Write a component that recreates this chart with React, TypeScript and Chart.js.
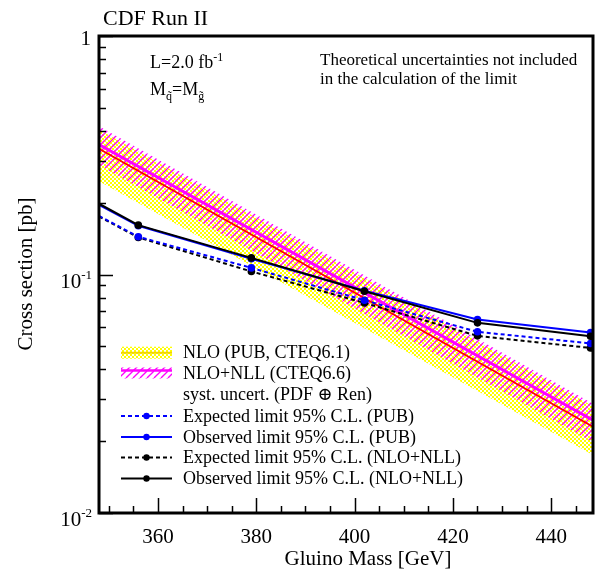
import React, { useEffect, useRef } from 'react';
import { Chart, registerables } from 'chart.js';
Chart.register(...registerables);

// ---- data ----
const limitMass = [348, 356, 379, 402, 425, 448];
const expectedPUB = [0.176, 0.144, 0.1066, 0.078, 0.0575, 0.0514];
const observedPUB = [0.196, 0.16, 0.1165, 0.0855, 0.0648, 0.0571];
const expectedNLL = [0.175, 0.143, 0.103, 0.076, 0.0553, 0.0492];
const observedNLL = [0.198, 0.161, 0.1174, 0.0851, 0.0627, 0.0551];

const bandMass = [348, 448.5];
const nloCentral = [0.337, 0.023];
const nloUpper = [0.405, 0.028];
const nloLower = [0.246, 0.0175];
const nllCentral = [0.351, 0.0245];
const nllUpper = [0.418, 0.0287];
const nllLower = [0.288, 0.0198];

const xMajorTicks = [360, 380, 400, 420, 440];
const xTickLabels = ['360', '380', '400', '420', '440'];
const xMinorTicks = [350, 355, 365, 370, 375, 385, 390, 395, 405, 410, 415, 425, 430, 435, 445];
const yMajorTicks = [1, 0.1, 0.01];
const yTickBases = ['1', '10', '10'];
const yTickExps = ['', '-1', '-2'];
const yMinorTicks = [0.02, 0.03, 0.04, 0.05, 0.06, 0.07, 0.08, 0.09, 0.2, 0.3, 0.4, 0.5, 0.6, 0.7, 0.8, 0.9];

const legendLabels = [
  'NLO (PUB, CTEQ6.1)',
  'NLO+NLL (CTEQ6.6)',
  'syst. uncert. (PDF \u2295 Ren)',
  'Expected limit 95% C.L. (PUB)',
  'Observed limit 95% C.L. (PUB)',
  'Expected limit 95% C.L. (NLO+NLL)',
  'Observed limit 95% C.L. (NLO+NLL)',
];

const FONT = "'Liberation Serif', 'DejaVu Serif', serif";
const BLUE = '#0000ff';
const BLACK = '#000000';

function yellowPattern(): CanvasPattern | string {
  const c = document.createElement('canvas');
  c.width = 4;
  c.height = 4;
  const g = c.getContext('2d');
  if (!g) return '#ffff00';
  g.fillStyle = '#ffff00';
  g.fillRect(0, 0, 2, 2);
  g.fillRect(2, 2, 2, 2);
  return g.createPattern(c, 'repeat') || '#ffff00';
}

function magentaPattern(): CanvasPattern | string {
  const c = document.createElement('canvas');
  const s = 7;
  c.width = s;
  c.height = s;
  const g = c.getContext('2d');
  if (!g) return '#ff00ff';
  g.strokeStyle = '#ff00ff';
  g.lineWidth = 1.3;
  for (const k of [-s, 0, s]) {
    g.beginPath();
    g.moveTo(k, s);
    g.lineTo(k + s, 0);
    g.stroke();
  }
  return g.createPattern(c, 'repeat') || '#ff00ff';
}

function pts(xs: number[], ys: number[]) {
  return xs.map((x, i) => ({ x, y: ys[i] }));
}

function drawParts(
  ctx: CanvasRenderingContext2D,
  parts: { t: string; size: number; dy: number }[],
  x: number,
  y: number,
  align: 'left' | 'right' | 'center'
) {
  let total = 0;
  const widths = parts.map((p) => {
    ctx.font = `${p.size}px ${FONT}`;
    const w = ctx.measureText(p.t).width;
    total += w;
    return w;
  });
  let cx = align === 'left' ? x : align === 'right' ? x - total : x - total / 2;
  ctx.textAlign = 'left';
  ctx.textBaseline = 'alphabetic';
  parts.forEach((p, i) => {
    ctx.font = `${p.size}px ${FONT}`;
    ctx.fillText(p.t, cx, y + p.dy);
    cx += widths[i];
  });
}

const overlayPlugin = {
  id: 'overlay',
  beforeDraw(chart: any) {
    const ctx = chart.ctx as CanvasRenderingContext2D;
    ctx.save();
    ctx.fillStyle = '#ffffff';
    ctx.fillRect(0, 0, chart.width, chart.height);
    ctx.restore();
  },
  afterDraw(chart: any) {
    const ctx = chart.ctx as CanvasRenderingContext2D;
    const xs = chart.scales.x;
    const ys = chart.scales.y;
    const a = chart.chartArea;
    ctx.save();
    ctx.fillStyle = BLACK;
    ctx.strokeStyle = BLACK;

    // ticks
    ctx.lineWidth = 1.5;
    ctx.beginPath();
    xMajorTicks.forEach((v) => {
      const px = Math.round(xs.getPixelForValue(v)) + 0.5;
      ctx.moveTo(px, a.bottom);
      ctx.lineTo(px, a.bottom - 15);
    });
    xMinorTicks.forEach((v) => {
      const px = Math.round(xs.getPixelForValue(v)) + 0.5;
      ctx.moveTo(px, a.bottom);
      ctx.lineTo(px, a.bottom - 7);
    });
    yMajorTicks.forEach((v) => {
      const py = Math.round(ys.getPixelForValue(v)) + 0.5;
      ctx.moveTo(a.left, py);
      ctx.lineTo(a.left + 14, py);
    });
    yMinorTicks.forEach((v) => {
      const py = Math.round(ys.getPixelForValue(v)) + 0.5;
      ctx.moveTo(a.left, py);
      ctx.lineTo(a.left + 7, py);
    });
    ctx.stroke();

    // frame
    ctx.lineWidth = 3;
    ctx.strokeRect(a.left, a.top, a.right - a.left, a.bottom - a.top);

    // x tick labels
    ctx.font = `21px ${FONT}`;
    ctx.textAlign = 'center';
    ctx.textBaseline = 'alphabetic';
    xMajorTicks.forEach((v, i) => {
      ctx.fillText(xTickLabels[i], xs.getPixelForValue(v), a.bottom + 30);
    });

    // y tick labels
    yMajorTicks.forEach((v, i) => {
      const py = ys.getPixelForValue(v);
      if (yTickExps[i] === '') {
        drawParts(ctx, [{ t: yTickBases[i], size: 21, dy: 0 }], 91, py + 9, 'right');
      } else {
        drawParts(
          ctx,
          [
            { t: yTickBases[i], size: 21, dy: 0 },
            { t: yTickExps[i], size: 13, dy: -9 },
          ],
          92,
          py + 13,
          'right'
        );
      }
    });

    // axis titles
    ctx.font = `21px ${FONT}`;
    ctx.textAlign = 'center';
    ctx.fillText('Gluino Mass [GeV]', 368, 565);
    ctx.save();
    ctx.translate(32, 274);
    ctx.rotate(-Math.PI / 2);
    ctx.fillText('Cross section [pb]', 0, 0);
    ctx.restore();

    // title
    ctx.font = `22px ${FONT}`;
    ctx.textAlign = 'left';
    ctx.fillText('CDF Run II', 103, 25);

    // annotations
    drawParts(
      ctx,
      [
        { t: 'L=2.0 fb', size: 18, dy: 0 },
        { t: '-1', size: 12, dy: -7 },
      ],
      150,
      68,
      'left'
    );
    drawParts(
      ctx,
      [
        { t: 'M', size: 18, dy: 0 },
        { t: 'q\u0303', size: 12, dy: 5 },
        { t: '=M', size: 18, dy: 0 },
        { t: 'g\u0303', size: 12, dy: 5 },
      ],
      150,
      95,
      'left'
    );
    ctx.font = `17px ${FONT}`;
    ctx.textAlign = 'left';
    ctx.fillText('Theoretical uncertainties not included', 320, 65);
    ctx.fillText('in the calculation of the limit', 320, 84);

    // legend
    const rows = [352.7, 373.5, 394.5, 416, 437, 457.5, 478.5];
    const sx0 = 121;
    const sx1 = 172;
    const smid = 146.5;
    // NLO swatch
    ctx.fillStyle = chart.$yellow;
    ctx.fillRect(sx0, rows[0] - 6, sx1 - sx0, 12);
    ctx.strokeStyle = '#f2d600';
    ctx.lineWidth = 2;
    ctx.beginPath();
    ctx.moveTo(sx0, rows[0]);
    ctx.lineTo(sx1, rows[0]);
    ctx.stroke();
    // NLL swatch
    ctx.fillStyle = chart.$magenta;
    ctx.fillRect(sx0, rows[1] - 6, sx1 - sx0, 11);
    ctx.strokeStyle = '#ff00ff';
    ctx.lineWidth = 2.5;
    ctx.beginPath();
    ctx.moveTo(sx0, rows[1] - 3);
    ctx.lineTo(sx1, rows[1] - 3);
    ctx.stroke();
    // limit swatches
    const limStyles = [
      { c: BLUE, dash: [4, 3] },
      { c: BLUE, dash: [] },
      { c: BLACK, dash: [4, 3] },
      { c: BLACK, dash: [] },
    ];
    limStyles.forEach((s, i) => {
      const y = rows[3 + i];
      ctx.strokeStyle = s.c;
      ctx.lineWidth = 2;
      ctx.setLineDash(s.dash);
      ctx.beginPath();
      ctx.moveTo(sx0, y);
      ctx.lineTo(sx1, y);
      ctx.stroke();
      ctx.setLineDash([]);
      ctx.fillStyle = s.c;
      ctx.beginPath();
      ctx.arc(smid, y, 3.2, 0, Math.PI * 2);
      ctx.fill();
    });
    ctx.fillStyle = BLACK;
    ctx.font = `18px ${FONT}`;
    ctx.textAlign = 'left';
    ctx.textBaseline = 'middle';
    legendLabels.forEach((t, i) => {
      ctx.fillText(t, 183, rows[i] + 1);
    });
    ctx.restore();
  },
};

export default function App() {
  const ref = useRef<HTMLCanvasElement | null>(null);
  useEffect(() => {
    if (!ref.current) return;
    const yellow = yellowPattern();
    const magenta = magentaPattern();
    const radii = limitMass.map((_, i) => (i === 0 ? 0 : 3.8));
    const limitDs = (label: string, ys: number[], color: string, dashed: boolean, order: number) => ({
      label,
      data: pts(limitMass, ys),
      borderColor: color,
      backgroundColor: color,
      borderWidth: 2,
      borderDash: dashed ? [4, 3] : [],
      pointRadius: radii,
      pointBorderWidth: 0,
      pointBackgroundColor: color,
      fill: false,
      tension: 0,
      order,
    });
    const chart: any = new Chart(ref.current, {
      type: 'line',
      data: {
        datasets: [
          {
            label: 'nloUpper',
            data: pts(bandMass, nloUpper),
            borderWidth: 0,
            pointRadius: 0,
            backgroundColor: yellow as any,
            fill: '+1',
            order: 10,
          },
          {
            label: 'nloLower',
            data: pts(bandMass, nloLower),
            borderWidth: 0,
            pointRadius: 0,
            fill: false,
            order: 9,
          },
          {
            label: 'nllUpper',
            data: pts(bandMass, nllUpper),
            borderWidth: 0,
            pointRadius: 0,
            backgroundColor: magenta as any,
            fill: '+1',
            order: 8,
          },
          {
            label: 'nllLower',
            data: pts(bandMass, nllLower),
            borderWidth: 0,
            pointRadius: 0,
            fill: false,
            order: 7,
          },
          {
            label: 'NLO',
            data: pts(bandMass, nloCentral),
            borderColor: '#ff0000',
            borderWidth: 1.8,
            pointRadius: 0,
            fill: false,
            order: 6,
          },
          {
            label: 'NLO+NLL',
            data: pts(bandMass, nllCentral),
            borderColor: '#ff00ff',
            borderWidth: 3,
            pointRadius: 0,
            fill: false,
            order: 5,
          },
          limitDs('Expected NLL', expectedNLL, BLACK, true, 4),
          limitDs('Expected PUB', expectedPUB, BLUE, true, 3),
          limitDs('Observed PUB', observedPUB, BLUE, false, 2),
          limitDs('Observed NLL', observedNLL, BLACK, false, 1),
        ] as any,
      },
      options: {
        animation: false,
        responsive: false,
        maintainAspectRatio: false,
        layout: { padding: { left: 99, top: 36, right: 5, bottom: 58 } },
        scales: {
          x: { type: 'linear', min: 348, max: 448.5, display: false },
          y: { type: 'logarithmic', min: 0.01, max: 1, display: false },
        },
        plugins: {
          legend: { display: false },
          tooltip: { enabled: false },
        },
        events: [],
      },
      plugins: [overlayPlugin],
    });
    chart.$yellow = yellow;
    chart.$magenta = magenta;
    chart.draw();
    return () => chart.destroy();
  }, []);
  return (
    <div style={{ position: 'absolute', left: 0, top: 0, width: 598, height: 571 }}>
      <canvas ref={ref} width={598} height={571} style={{ display: 'block', width: 598, height: 571 }} />
    </div>
  );
}
